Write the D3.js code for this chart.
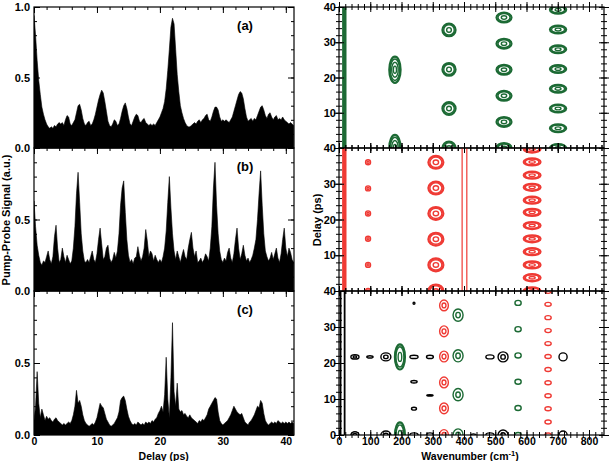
<!DOCTYPE html>
<meta charset="utf-8">
<script src="https://d3js.org/d3.v7.min.js"></script>
<style>
  body { margin: 0; background: #fff; }
</style>
<div id="chart"></div>
<script>

// pump-probe traces, one value every 0.25 ps starting at 0 ps
var dt = 0.25;
var traceA = [
  0.94,0.80,0.62,0.48,0.38,0.29,0.24,0.20, 0.17,0.15,0.14,0.15,0.14,0.16,0.15,0.17,
  0.18,0.17,0.18,0.16,0.20,0.23,0.22,0.17, 0.16,0.18,0.20,0.25,0.30,0.31,0.27,0.21,
  0.17,0.16,0.18,0.19,0.16,0.17,0.20,0.24, 0.29,0.34,0.38,0.41,0.39,0.33,0.26,0.19,
  0.16,0.15,0.17,0.20,0.19,0.16,0.17,0.21, 0.26,0.30,0.32,0.28,0.22,0.17,0.16,0.19,
  0.22,0.24,0.23,0.19,0.18,0.20,0.21,0.18, 0.17,0.16,0.17,0.16,0.17,0.16,0.18,0.20,
  0.22,0.25,0.28,0.33,0.42,0.55,0.70,0.86, 0.92,0.88,0.70,0.52,0.40,0.30,0.25,0.21,
  0.18,0.16,0.15,0.15,0.16,0.17,0.18,0.17, 0.19,0.20,0.18,0.20,0.21,0.23,0.24,0.20,
  0.19,0.22,0.26,0.29,0.29,0.27,0.22,0.19, 0.20,0.19,0.20,0.19,0.18,0.20,0.22,0.26,
  0.30,0.34,0.38,0.40,0.39,0.35,0.28,0.22, 0.19,0.20,0.21,0.19,0.21,0.20,0.23,0.26,
  0.29,0.30,0.27,0.23,0.21,0.24,0.25,0.22, 0.20,0.22,0.23,0.20,0.21,0.20,0.22,0.20,
  0.19,0.18,0.17,0.18,0.17,0.16
];
var traceB = [
  0.63,0.45,0.32,0.25,0.20,0.18,0.21,0.20, 0.24,0.28,0.22,0.19,0.24,0.38,0.46,0.30,
  0.20,0.22,0.30,0.24,0.20,0.25,0.22,0.19, 0.21,0.30,0.45,0.68,0.83,0.62,0.40,0.28,
  0.21,0.20,0.22,0.20,0.24,0.28,0.22,0.20, 0.26,0.36,0.44,0.33,0.22,0.24,0.30,0.32,
  0.23,0.20,0.22,0.27,0.23,0.28,0.40,0.60, 0.72,0.77,0.55,0.36,0.25,0.20,0.22,0.19,
  0.23,0.24,0.31,0.25,0.21,0.24,0.30,0.43, 0.35,0.24,0.28,0.26,0.21,0.25,0.22,0.20,
  0.22,0.20,0.24,0.30,0.42,0.62,0.80,0.58, 0.40,0.28,0.22,0.28,0.24,0.20,0.25,0.29,
  0.24,0.22,0.30,0.36,0.41,0.30,0.24,0.28, 0.20,0.21,0.23,0.20,0.22,0.26,0.24,0.21,
  0.30,0.45,0.72,0.90,0.60,0.40,0.28,0.22, 0.20,0.23,0.21,0.27,0.30,0.23,0.20,0.26,
  0.36,0.44,0.30,0.22,0.26,0.32,0.25,0.21, 0.23,0.20,0.22,0.25,0.30,0.36,0.50,0.68,
  0.84,0.60,0.40,0.28,0.24,0.21,0.23,0.27, 0.22,0.26,0.30,0.23,0.20,0.26,0.36,0.44,
  0.30,0.24,0.30,0.27,0.22,0.20
];
var traceC = [
  0.10,0.20,0.44,0.22,0.12,0.18,0.14,0.10, 0.13,0.11,0.12,0.10,0.09,0.11,0.12,0.10,
  0.09,0.08,0.07,0.08,0.07,0.08,0.09,0.08, 0.10,0.14,0.20,0.31,0.22,0.24,0.20,0.14,
  0.10,0.08,0.07,0.06,0.07,0.08,0.07,0.09, 0.12,0.17,0.22,0.20,0.19,0.15,0.11,0.09,
  0.07,0.06,0.07,0.08,0.10,0.12,0.16,0.24, 0.26,0.27,0.24,0.18,0.13,0.10,0.08,0.07,
  0.08,0.07,0.09,0.08,0.07,0.08,0.07,0.09, 0.08,0.09,0.08,0.10,0.09,0.11,0.12,0.15,
  0.17,0.20,0.16,0.28,0.54,0.25,0.12,0.40, 0.78,0.30,0.20,0.36,0.18,0.16,0.17,0.14,
  0.15,0.13,0.12,0.14,0.12,0.11,0.10,0.09, 0.08,0.10,0.09,0.11,0.10,0.12,0.14,0.18,
  0.20,0.22,0.24,0.26,0.25,0.16,0.10,0.08, 0.07,0.08,0.09,0.10,0.12,0.14,0.17,0.20,
  0.18,0.16,0.15,0.14,0.15,0.12,0.09,0.08, 0.07,0.09,0.10,0.12,0.14,0.17,0.20,0.19,
  0.24,0.22,0.15,0.10,0.08,0.07,0.08,0.09, 0.08,0.09,0.08,0.10,0.09,0.08,0.09,0.08,
  0.09,0.08,0.09,0.08,0.09,0.08
];
var panelNames = ["(a)", "(b)", "(c)"];

// tick labels
var signalLabels = [[1.0, 0.5, 0.0], [0.5, 0.0], [0.5, 0.0]];
var delayLabels = [0, 10, 20, 30, 40];
var mapDelayLabels = [[40, 30, 20, 10], [40, 30, 20, 10], [40, 30, 20, 10, 0]];
var wavenumberLabels = [0, 100, 200, 300, 400, 500, 600, 700, 800];

// 2D maps, one row per peak:
// [wavenumber cm-1, delay ps, half width cm-1, half width ps, contour levels]
var mapTopGreen = [
  [179, 22.2, 18, 3.7, 4], [179, 0, 18, 3.7, 4],
  [352, 0, 21, 1.8, 3], [352, 11.2, 21, 1.8, 3], [352, 22.3, 21, 1.8, 3], [352, 33.5, 21, 1.8, 3],
  [528, 0, 24, 1.4, 3], [528, 7.4, 24, 1.4, 3], [528, 14.8, 24, 1.4, 3],
  [528, 22.2, 24, 1.4, 3], [528, 29.6, 24, 1.4, 3], [528, 37.0, 24, 1.4, 3],
  [701, 0, 26, 1.1, 3], [701, 5.6, 26, 1.1, 3], [701, 11.2, 26, 1.1, 3], [701, 16.8, 26, 1.1, 3],
  [701, 22.4, 26, 1.1, 3], [701, 28.0, 26, 1.1, 3], [701, 33.6, 26, 1.1, 3], [701, 39.2, 26, 1.1, 3]
];
var mapMidRed = [
  [93, 0, 8, 0.7, 2], [93, 7.3, 8, 0.7, 2], [93, 14.6, 8, 0.7, 2],
  [93, 21.7, 8, 0.7, 2], [93, 28.7, 8, 0.7, 2], [93, 36.0, 8, 0.7, 2],
  [310, 0, 24, 1.8, 3], [310, 7.3, 24, 1.8, 3], [310, 14.5, 24, 1.8, 3],
  [310, 21.7, 24, 1.8, 3], [310, 28.8, 24, 1.8, 3], [310, 36.0, 24, 1.8, 3],
  [618, 0, 27, 1.0, 3], [618, 3.7, 27, 1.0, 3], [618, 7.3, 27, 1.0, 3], [618, 11.0, 27, 1.0, 3],
  [618, 14.6, 27, 1.0, 3], [618, 18.3, 27, 1.0, 3], [618, 22.0, 27, 1.0, 3], [618, 25.4, 27, 1.0, 3],
  [618, 29.0, 27, 1.0, 3], [618, 32.4, 27, 1.0, 3], [618, 36.1, 27, 1.0, 3], [618, 39.7, 27, 1.0, 3]
];
var mapBotBlack = [
  [51, 21.7, 13, 0.6, 2], [99, 21.7, 10, 0.3, 1], [150, 21.7, 16, 1.1, 2], [240, 21.7, 13, 0.45, 1],
  [291, 21.7, 11, 0.45, 1], [483, 21.7, 13, 0.55, 1], [525, 21.7, 16, 1.4, 2], [717, 21.7, 13, 1.1, 1],
  [240, 36.6, 3, 0.3, 1], [240, 14.8, 10, 0.35, 1], [240, 7.3, 8, 0.4, 1], [291, 11.0, 10, 0.2, 1],
  [51, 0, 13, 0.9, 2], [150, 0, 16, 1.1, 2], [240, 0, 13, 0.6, 1], [291, 0, 11, 0.6, 1],
  [430, 0, 8, 0.3, 1], [483, 0, 13, 0.6, 1], [525, 0, 16, 1.4, 2], [717, 0, 13, 1.1, 1]
];
var mapBotGreen = [
  [195, 21.7, 16, 3.5, 3], [195, 0, 16, 3.5, 3],
  [381, 0, 16, 1.7, 2], [381, 11.2, 16, 1.7, 2], [381, 22.0, 16, 1.7, 2], [381, 33.3, 16, 1.7, 2],
  [573, 0, 10, 0.7, 1], [573, 7.5, 10, 0.7, 1], [573, 14.8, 10, 0.7, 1],
  [573, 22.1, 10, 0.7, 1], [573, 29.4, 10, 0.7, 1], [573, 36.7, 10, 0.7, 1]
];
var mapBotRed = [
  [336, 0, 14, 1.5, 2], [336, 7.4, 14, 1.5, 2], [336, 14.6, 14, 1.5, 2],
  [336, 21.8, 14, 1.5, 2], [336, 28.8, 14, 1.5, 2], [336, 36.0, 14, 1.5, 2],
  [669, 0, 10, 0.55, 1], [669, 3.6, 10, 0.55, 1], [669, 7.3, 10, 0.55, 1], [669, 10.9, 10, 0.55, 1],
  [669, 14.5, 10, 0.55, 1], [669, 18.2, 10, 0.55, 1], [669, 21.8, 10, 0.55, 1], [669, 25.4, 10, 0.55, 1],
  [669, 29.0, 10, 0.55, 1], [669, 32.6, 10, 0.55, 1], [669, 36.3, 10, 0.55, 1], [669, 39.9, 10, 0.55, 1]
];
// ridges running through all delays: [from cm-1, to cm-1]
var bandTop = [10, 24];
var bandMid = [10, 24];
var linesMid = [394, 409];
var linesBot = [5, 18];

var GREEN = "#1c6a34", RED = "#ef3a34";
var FONT = "'Liberation Sans', Arial, sans-serif";

var svg = d3.select("#chart").append("svg")
    .attr("width", 609)
    .attr("height", 461);

var tops = [7, 148, 291],
    bots = [148, 291, 435];

var xL = d3.scaleLinear().domain([0, 41.3]).range([34, 294]);
var xR = d3.scaleLinear().domain([0, 848]).range([339, 604]);

function styleLabels(g, size) {
  g.select(".domain").remove();
  g.attr("font-family", FONT).attr("font-size", size).attr("font-weight", "bold");
  g.selectAll("text").attr("fill", "#000");
}

function ticks(g, axisFn, scale, values, size, transform) {
  g.append("g")
    .attr("transform", transform)
    .call(axisFn(scale).tickValues(values).tickSize(size).tickFormat(""))
    .call(function(a) { a.select(".domain").remove(); })
    .selectAll("line").attr("stroke-width", 1);
}

// ---------- left: pump-probe traces ----------
[traceA, traceB, traceC].forEach(function(tr, i) {
  var y = d3.scaleLinear().domain([0, 1]).range([bots[i], tops[i]]);
  var g = svg.append("g");

  svg.append("clipPath").attr("id", "clipL" + i)
    .append("rect")
      .attr("x", xL(0)).attr("y", tops[i])
      .attr("width", xL(41.3) - xL(0)).attr("height", bots[i] - tops[i]);

  var pts = tr.map(function(v, k) { return [k * dt, v]; });
  g.append("path")
    .datum(pts)
    .attr("clip-path", "url(#clipL" + i + ")")
    .attr("d", d3.area()
      .x(function(d) { return xL(d[0]); })
      .y0(y(0))
      .y1(function(d) { return y(d[1]); }))
    .attr("fill", "#000")
    .attr("stroke", "#000")
    .attr("stroke-width", 0.6);

  // inward ticks
  var minorX = d3.range(0, 41, 2), majorX = [0, 10, 20, 30, 40];
  var minorY = d3.range(0, 1.01, 0.1), majorY = [0, 0.5, 1];
  ticks(g, d3.axisBottom, xL, minorX, -3, "translate(0," + bots[i] + ")");
  ticks(g, d3.axisBottom, xL, majorX, -6, "translate(0," + bots[i] + ")");
  ticks(g, d3.axisTop, xL, minorX, -3, "translate(0," + tops[i] + ")");
  ticks(g, d3.axisTop, xL, majorX, -6, "translate(0," + tops[i] + ")");
  ticks(g, d3.axisLeft, y, minorY, -3, "translate(" + xL(0) + ",0)");
  ticks(g, d3.axisLeft, y, majorY, -6, "translate(" + xL(0) + ",0)");
  ticks(g, d3.axisRight, y, minorY, -3, "translate(" + xL(41.3) + ",0)");
  ticks(g, d3.axisRight, y, majorY, -6, "translate(" + xL(41.3) + ",0)");

  g.append("rect")
    .attr("x", xL(0)).attr("y", tops[i])
    .attr("width", xL(41.3) - xL(0)).attr("height", bots[i] - tops[i])
    .attr("fill", "none").attr("stroke", "#000").attr("stroke-width", 1.2);

  g.append("g")
    .attr("transform", "translate(" + (xL(0) - 4) + ",0)")
    .call(d3.axisLeft(y).tickValues(signalLabels[i]).tickSize(0).tickPadding(0).tickFormat(d3.format(".1f")))
    .call(styleLabels, 11);

  g.append("text")
    .attr("x", 245).attr("y", tops[i] + 23)
    .attr("text-anchor", "middle")
    .attr("font-family", FONT).attr("font-size", 13).attr("font-weight", "bold")
    .text(panelNames[i]);

  if (i === 2) {
    g.append("g")
      .attr("transform", "translate(0," + (bots[i] + 3) + ")")
      .call(d3.axisBottom(xL).tickValues(delayLabels).tickSize(0).tickPadding(0))
      .call(styleLabels, 10.5);
  }
});

svg.append("text")
  .attr("transform", "translate(10,220) rotate(-90)")
  .attr("text-anchor", "middle")
  .attr("font-family", FONT).attr("font-size", 11).attr("font-weight", "bold")
  .text("Pump-Probe Signal (a.u.)");

svg.append("text")
  .attr("x", xL(20.6)).attr("y", 460)
  .attr("text-anchor", "middle")
  .attr("font-family", FONT).attr("font-size", 10.5).attr("font-weight", "bold")
  .text("Delay (ps)");

// ---------- right: 2D maps ----------
var ringFractions = { 1: [1], 2: [1, 0.45], 3: [1, 0.8, 0.36], 4: [1, 0.82, 0.58, 0.28] };

function drawPeaks(g, rows, color, y) {
  var rings = [];
  rows.forEach(function(r) {
    ringFractions[r[4]].forEach(function(f, k) {
      rings.push({ w: r[0], t: r[1], rw: r[2] * f, rt: r[3] * f, outer: k === 0 && r[4] >= 3 });
    });
  });
  g.selectAll(null)
    .data(rings)
    .join("ellipse")
      .attr("cx", function(d) { return xR(d.w); })
      .attr("cy", function(d) { return y(d.t); })
      .attr("rx", function(d) { return xR(d.w + d.rw) - xR(d.w); })
      .attr("ry", function(d) { return y(d.t) - y(d.t + d.rt); })
      .attr("fill", "none")
      .attr("stroke", color)
      .attr("stroke-width", function(d) { return d.outer ? 2.2 : 1.4; });
}

var maps = [
  { peaks: [[mapTopGreen, GREEN]], band: bandTop, bandColor: GREEN, lines: [], lineColor: GREEN },
  { peaks: [[mapMidRed, RED]], band: bandMid, bandColor: RED, lines: linesMid, lineColor: RED },
  { peaks: [[mapBotBlack, "#000"], [mapBotGreen, GREEN], [mapBotRed, RED]], band: null, lines: linesBot, lineColor: "#000" }
];

maps.forEach(function(m, i) {
  var y = d3.scaleLinear().domain([0, 40]).range([bots[i], tops[i]]);
  var g = svg.append("g");

  svg.append("clipPath").attr("id", "clipR" + i)
    .append("rect")
      .attr("x", xR(0)).attr("y", tops[i])
      .attr("width", xR(848) - xR(0)).attr("height", bots[i] - tops[i]);

  var inner = g.append("g").attr("clip-path", "url(#clipR" + i + ")");

  if (m.band) {
    inner.append("rect")
      .attr("x", xR(m.band[0])).attr("y", tops[i])
      .attr("width", xR(m.band[1]) - xR(m.band[0])).attr("height", bots[i] - tops[i])
      .attr("fill", m.bandColor);
  }
  inner.selectAll(null)
    .data(m.lines)
    .join("line")
      .attr("x1", function(d) { return xR(d); }).attr("x2", function(d) { return xR(d); })
      .attr("y1", tops[i]).attr("y2", bots[i])
      .attr("stroke", m.lineColor)
      .attr("stroke-width", i === 2 ? 1.8 : 1.2);

  m.peaks.forEach(function(p) { drawPeaks(inner, p[0], p[1], y); });

  // ticks crossing the frame
  var minorX = d3.range(0, 849, 20), majorX = d3.range(0, 801, 100);
  var minorY = d3.range(0, 41, 2), majorY = [0, 10, 20, 30, 40];
  [3, -3].forEach(function(s) {
    ticks(g, d3.axisBottom, xR, minorX, s, "translate(0," + bots[i] + ")");
    ticks(g, d3.axisTop, xR, minorX, s, "translate(0," + tops[i] + ")");
    ticks(g, d3.axisLeft, y, minorY, s, "translate(" + xR(0) + ",0)");
    ticks(g, d3.axisRight, y, minorY, s, "translate(" + xR(848) + ",0)");
  });
  [5, -5].forEach(function(s) {
    ticks(g, d3.axisBottom, xR, majorX, s, "translate(0," + bots[i] + ")");
    ticks(g, d3.axisTop, xR, majorX, s, "translate(0," + tops[i] + ")");
    ticks(g, d3.axisLeft, y, majorY, s, "translate(" + xR(0) + ",0)");
    ticks(g, d3.axisRight, y, majorY, s, "translate(" + xR(848) + ",0)");
  });

  g.append("rect")
    .attr("x", xR(0)).attr("y", tops[i])
    .attr("width", xR(848) - xR(0)).attr("height", bots[i] - tops[i])
    .attr("fill", "none").attr("stroke", "#000").attr("stroke-width", 1.2);

  g.append("g")
    .attr("transform", "translate(" + (xR(0) - 3) + ",0)")
    .call(d3.axisLeft(y).tickValues(mapDelayLabels[i]).tickSize(0).tickPadding(0))
    .call(styleLabels, 11);

  if (i === 2) {
    g.append("g")
      .attr("transform", "translate(0," + (bots[i] + 3) + ")")
      .call(d3.axisBottom(xR).tickValues(wavenumberLabels).tickSize(0).tickPadding(0))
      .call(styleLabels, 10.5);
  }
});

svg.append("text")
  .attr("transform", "translate(321,220) rotate(-90)")
  .attr("text-anchor", "middle")
  .attr("font-family", FONT).attr("font-size", 11).attr("font-weight", "bold")
  .text("Delay (ps)");

var wl = svg.append("text")
  .attr("x", 470).attr("y", 460)
  .attr("text-anchor", "middle")
  .attr("font-family", FONT).attr("font-size", 10.5).attr("font-weight", "bold");
wl.append("tspan").text("Wavenumber (cm");
wl.append("tspan").attr("dy", -4).attr("font-size", 7.5).text("-1");
wl.append("tspan").attr("dy", 4).text(")");

</script>
